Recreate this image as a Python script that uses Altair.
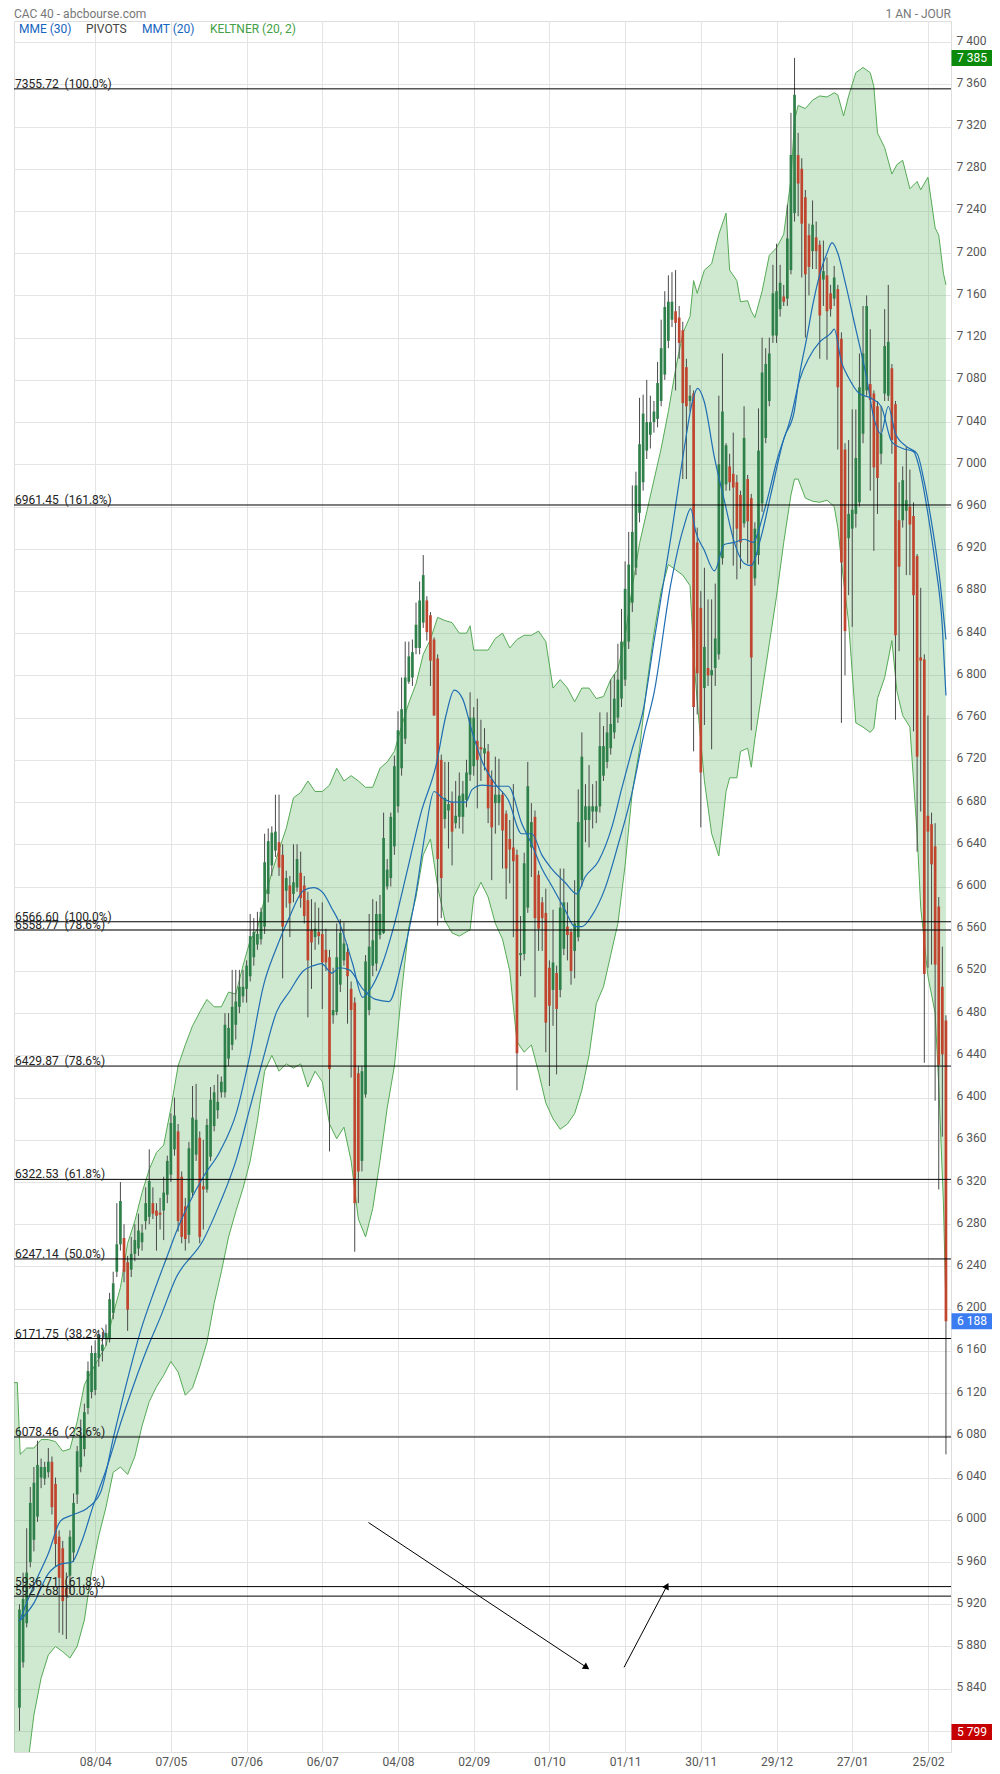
import altair as alt
import pandas as pd

# ---------------- data ----------------
O = [5822, 5865, 5902, 5960, 5981, 6003, 6040, 6039, 6045, 6055,
     6034, 5984, 5973, 5935, 5947, 5969, 6024, 6050, 6067, 6106,
     6121, 6123, 6153, 6160, 6171, 6171, 6196, 6235, 6261, 6267,
     6244, 6237, 6252, 6257, 6263, 6283, 6287, 6300, 6293, 6291,
     6293, 6308, 6327, 6351, 6368, 6325, 6297, 6270, 6310, 6346,
     6362, 6316, 6313, 6344, 6373, 6388, 6405, 6405, 6437, 6450,
     6469, 6486, 6496, 6503, 6515, 6533, 6545, 6550, 6562, 6593,
     6620, 6634, 6642, 6630, 6596, 6601, 6593, 6599, 6613, 6601,
     6587, 6559, 6552, 6557, 6555, 6540, 6533, 6478, 6481, 6507,
     6530, 6538, 6503, 6490, 6423, 6340, 6403, 6483, 6525, 6527,
     6554, 6556, 6600, 6608, 6638, 6676, 6712, 6740, 6794, 6798,
     6826, 6826, 6850, 6871, 6857, 6834, 6816, 6720, 6664, 6672,
     6680, 6660, 6666, 6666, 6682, 6706, 6714, 6738, 6732, 6726,
     6728, 6702, 6679, 6679, 6687, 6669, 6645, 6637, 6630, 6535,
     6536, 6580, 6637, 6666, 6611, 6585, 6575, 6523, 6502, 6518,
     6502, 6541, 6562, 6557, 6539, 6552, 6606, 6663, 6663, 6671,
     6671, 6676, 6705, 6718, 6731, 6746, 6760, 6778, 6796, 6832,
     6869, 6902, 6954, 6983, 7013, 7028, 7040, 7043, 7060, 7085,
     7117, 7137, 7145, 7139, 7127, 7092, 7060, 7067, 6926, 6864,
     6788, 6807, 6800, 6807, 6820, 6911, 6981, 6998, 6991, 6983,
     6971, 6944, 6986, 6968, 6892, 6914, 6963, 7025, 7060, 7122,
     7122, 7147, 7159, 7157, 7184, 7238, 7293, 7280, 7253, 7217,
     7202, 7215, 7208, 7175, 7179, 7162, 7157, 7166, 7119, 7014,
     6930, 6939, 6953, 6964, 7029, 7070, 7076, 7067, 7055, 7010,
     7067, 7065, 7091, 7057, 6947, 6947, 6956, 6960, 6951, 6913,
     6817, 6815, 6667, 6659, 6638, 6581, 6505, 6473]
C = [5915, 5925, 5950, 6016, 6035, 6052, 6050, 6050, 6055, 6012,
     5977, 5945, 5923, 5928, 5984, 6016, 6065, 6080, 6102, 6141,
     6158, 6158, 6175, 6166, 6177, 6209, 6224, 6261, 6302, 6235,
     6199, 6252, 6265, 6274, 6272, 6300, 6321, 6290, 6288, 6289,
     6310, 6340, 6376, 6383, 6283, 6268, 6266, 6352, 6381, 6379,
     6268, 6313, 6374, 6398, 6405, 6396, 6415, 6469, 6466, 6486,
     6491, 6505, 6505, 6525, 6553, 6557, 6555, 6576, 6623, 6643,
     6651, 6652, 6618, 6562, 6608, 6584, 6604, 6626, 6589, 6572,
     6530, 6547, 6560, 6553, 6528, 6528, 6427, 6483, 6533, 6556,
     6546, 6515, 6483, 6300, 6330, 6425, 6529, 6543, 6549, 6574,
     6574, 6646, 6616, 6666, 6714, 6748, 6768, 6798, 6818, 6822,
     6848, 6871, 6895, 6841, 6814, 6762, 6626, 6608, 6684, 6678,
     6652, 6667, 6686, 6688, 6708, 6760, 6760, 6720, 6730, 6731,
     6674, 6656, 6687, 6687, 6653, 6617, 6635, 6624, 6442, 6537,
     6622, 6695, 6661, 6570, 6560, 6570, 6471, 6487, 6528, 6484,
     6580, 6585, 6554, 6520, 6565, 6661, 6723, 6676, 6676, 6676,
     6676, 6733, 6733, 6746, 6754, 6778, 6796, 6832, 6882, 6905,
     6936, 6980, 7019, 7048, 7040, 7040, 7050, 7077, 7110, 7149,
     7154, 7154, 7134, 7115, 7058, 7055, 7065, 6770, 6802, 6708,
     6827, 6800, 6805, 6835, 7000, 7050, 7018, 6983, 6978, 6939,
     6926, 7025, 6946, 6817, 6939, 7013, 7087, 7095, 7105, 7162,
     7164, 7172, 7154, 7214, 7293, 7350, 7266, 7228, 7180, 7187,
     7227, 7202, 7141, 7183, 7145, 7147, 7177, 7073, 6907, 6842,
     6953, 6957, 7006, 7073, 7105, 7150, 7061, 6997, 6987, 7029,
     7112, 7116, 7023, 6838, 6903, 6985, 6966, 6943, 6876, 6723,
     6814, 6517, 6652, 6621, 6526, 6431, 6441, 6188]
HI = [5920, 5950, 5992, 6031, 6050, 6075, 6058, 6055, 6068, 6060,
      6040, 5990, 5980, 5950, 5990, 6025, 6070, 6095, 6110, 6150,
      6165, 6170, 6180, 6178, 6185, 6215, 6235, 6300, 6320, 6280,
      6250, 6268, 6280, 6290, 6280, 6315, 6351, 6315, 6300, 6305,
      6325, 6345, 6385, 6400, 6375, 6330, 6305, 6358, 6411, 6413,
      6368, 6360, 6380, 6410, 6412, 6422, 6420, 6480, 6480, 6521,
      6521, 6521, 6521, 6530, 6574, 6570, 6576, 6580, 6650, 6655,
      6657, 6687, 6687, 6640, 6615, 6610, 6640, 6640, 6633, 6610,
      6595, 6588, 6585, 6580, 6585, 6560, 6540, 6523, 6565, 6569,
      6566, 6545, 6510, 6495, 6430, 6430, 6535, 6574, 6588, 6586,
      6592, 6670, 6626, 6670, 6724, 6766, 6798, 6832, 6832, 6834,
      6869, 6889, 6914, 6875, 6860, 6836, 6820, 6725, 6718, 6718,
      6690, 6700, 6708, 6700, 6720, 6784, 6770, 6778, 6758, 6750,
      6735, 6710, 6723, 6721, 6690, 6672, 6663, 6697, 6635, 6572,
      6632, 6718, 6679, 6672, 6615, 6590, 6598, 6530, 6578, 6525,
      6617, 6617, 6585, 6560, 6606, 6692, 6746, 6697, 6715, 6697,
      6700, 6765, 6752, 6765, 6796, 6801, 6830, 6863, 6908, 6936,
      6980, 6993, 7063, 7066, 7080, 7065, 7060, 7097, 7137, 7164,
      7179, 7182, 7184, 7150, 7135, 7100, 7075, 7070, 6940, 6880,
      6902, 6872, 6872, 6887, 7065, 7105, 7020, 7010, 7030, 6990,
      6975, 7055, 6990, 6972, 6945, 7053, 7120, 7110, 7120, 7189,
      7209, 7189, 7170, 7246, 7333, 7385, 7314, 7290, 7260, 7228,
      7250, 7230, 7212, 7212, 7196, 7170, 7188, 7170, 7125, 7020,
      7023, 7052, 7052, 7105, 7150, 7160, 7128, 7070, 7060, 7055,
      7147, 7170, 7095, 7060, 6983, 6998, 7017, 6995, 6964, 6915,
      6883, 6820, 6762, 6670, 6660, 6590, 6543, 6478]
LO = [5800, 5860, 5898, 5955, 5970, 5998, 6030, 6033, 6040, 6005,
      5956, 5893, 5891, 5887, 5930, 5960, 6015, 6045, 6060, 6100,
      6115, 6118, 6145, 6150, 6165, 6168, 6190, 6230, 6255, 6225,
      6179, 6230, 6245, 6250, 6255, 6275, 6280, 6285, 6255, 6275,
      6265, 6300, 6320, 6345, 6273, 6262, 6255, 6262, 6305, 6340,
      6262, 6275, 6310, 6340, 6368, 6380, 6400, 6400, 6430, 6445,
      6455, 6480, 6490, 6490, 6510, 6525, 6540, 6545, 6555, 6585,
      6610, 6628, 6610, 6513, 6580, 6552, 6585, 6595, 6580, 6565,
      6476, 6503, 6540, 6545, 6484, 6520, 6349, 6470, 6478, 6500,
      6525, 6470, 6419, 6254, 6300, 6330, 6400, 6478, 6515, 6520,
      6550, 6555, 6597, 6600, 6630, 6670, 6705, 6735, 6792, 6790,
      6820, 6820, 6845, 6833, 6790, 6762, 6563, 6570, 6655, 6636,
      6620, 6655, 6655, 6650, 6675, 6700, 6705, 6674, 6700, 6710,
      6660, 6606, 6650, 6658, 6617, 6588, 6603, 6552, 6407, 6515,
      6530, 6575, 6609, 6495, 6539, 6539, 6443, 6411, 6468, 6422,
      6495, 6535, 6530, 6507, 6513, 6548, 6600, 6642, 6637, 6655,
      6660, 6670, 6700, 6712, 6725, 6740, 6755, 6770, 6790, 6825,
      6860, 6895, 6945, 6975, 7005, 7015, 7030, 7035, 7055, 7080,
      7110, 7130, 7070, 7100, 6986, 6986, 7050, 6728, 6763, 6656,
      6753, 6790, 6730, 6790, 6815, 6905, 6975, 6975, 6904, 6891,
      6901, 6940, 6906, 6748, 6885, 6905, 6955, 7020, 7055, 7115,
      7115, 7140, 7150, 7150, 7180, 7230, 7235, 7177, 7120, 7160,
      7185, 7185, 7100, 7150, 7099, 7140, 7150, 7014, 6755, 6800,
      6876, 6846, 6940, 6960, 7020, 7065, 6975, 6918, 6953, 7000,
      7060, 7060, 7010, 6758, 6823, 6940, 6895, 6895, 6747, 6633,
      6671, 6433, 6523, 6526, 6397, 6313, 6363, 6062]

# Keltner band (20, 2): index, upper, lower
band_i = [-1.5, -0.6, 0.2, 2, 4, 6, 8, 10, 12, 14, 16, 18, 20, 22, 24, 26, 28, 30, 32, 34,
          36, 38, 40, 42, 44, 46, 48, 50, 52, 54, 56, 58, 60, 62, 64, 66, 68, 70, 72, 74,
          76, 78, 80, 82, 84, 86, 88, 90, 92, 94, 96, 98, 100, 102, 104, 106, 108, 110, 112, 114,
          116, 118, 120, 122, 124, 125, 126, 128, 130, 132, 134, 136, 138, 140, 142, 144, 146, 148, 150, 152,
          154, 156, 158, 160, 162, 164, 166, 168, 170, 172, 174, 176, 178, 180, 182, 184, 186, 187, 188, 190,
          192, 194, 196, 197, 199, 200, 202, 203, 204, 206, 208, 210, 212, 214, 215, 216, 218, 220, 222, 224,
          226, 227, 228.6, 230, 232, 234, 236, 237, 238, 240, 242, 243.4, 245, 247, 249, 250, 252, 254, 255, 256.3,
          257]
band_up = [6130, 6130, 6062, 6068, 6068, 6076, 6076, 6074, 6065, 6067, 6093, 6128, 6141, 6153, 6165, 6195, 6220, 6262, 6283, 6310,
           6332, 6348, 6355, 6390, 6430, 6450, 6468, 6481, 6493, 6486, 6486, 6500, 6498, 6525, 6549, 6560, 6589, 6613, 6635, 6655,
           6684, 6689, 6700, 6690, 6690, 6696, 6712, 6700, 6705, 6700, 6694, 6694, 6712, 6718, 6728, 6752, 6774, 6792, 6820, 6834,
           6855, 6852, 6850, 6840, 6840, 6847, 6824, 6824, 6824, 6835, 6840, 6826, 6834, 6838, 6838, 6842, 6832, 6788, 6796, 6788,
           6775, 6788, 6788, 6778, 6780, 6796, 6806, 6837, 6884, 6925, 6955, 6985, 7015, 7050, 7090, 7124, 7140, 7174, 7162, 7184,
           7190, 7218, 7238, 7184, 7174, 7154, 7155, 7145, 7139, 7164, 7198, 7205, 7218, 7270, 7326, 7340, 7337, 7345, 7349, 7348,
           7352, 7350, 7330, 7349, 7371, 7376, 7371, 7358, 7314, 7300, 7275, 7284, 7288, 7261, 7268, 7260, 7272, 7224, 7217, 7181,
           7170]
band_lo = [5700, 5715, 5725, 5760, 5815, 5850, 5872, 5880, 5875, 5869, 5880, 5905, 5951, 5985, 6012, 6045, 6050, 6043, 6060, 6089,
           6112, 6126, 6137, 6150, 6140, 6118, 6125, 6145, 6168, 6205, 6235, 6268, 6292, 6314, 6340, 6378, 6425, 6440, 6425, 6432,
           6428, 6432, 6410, 6425, 6415, 6375, 6361, 6372, 6340, 6285, 6268, 6295, 6340, 6390, 6430, 6500, 6562, 6590, 6630, 6645,
           6600, 6568, 6556, 6553, 6557, 6559, 6590, 6604, 6590, 6565, 6550, 6520, 6453, 6443, 6450, 6424, 6395, 6380, 6370, 6375,
           6385, 6407, 6440, 6489, 6505, 6535, 6565, 6620, 6690, 6730, 6790, 6840, 6880, 6905, 6900, 6895, 6885, 6820, 6775, 6700,
           6650, 6629, 6690, 6703, 6703, 6728, 6731, 6713, 6740, 6785, 6830, 6875, 6926, 6971, 6986, 6986, 6968, 6965, 6964, 6966,
           6960, 6940, 6890, 6850, 6755, 6751, 6746, 6750, 6778, 6798, 6833, 6785, 6762, 6751, 6650, 6580, 6515, 6480, 6412, 6300,
           6200]

# MMT (20) and MME (30)
ma1_i = [0, 4, 8, 11.4, 15, 18.8, 22.5, 26.2, 29.9, 33.6, 37.3, 41, 43.4, 51, 55.6, 60.2, 63.9, 67.6, 71.3, 75,
         78.7, 81.5, 84.2, 86.7, 88.7, 92.4, 95.2, 97, 100.7, 103.5, 107.5, 111.4, 115.5, 118.3, 120.6, 122.9, 125.6, 128.4, 132, 135.6,
         139.3, 142.1, 144.9, 147.6, 151.3, 154.6, 156.9, 160.6, 164.3, 167, 169.8, 173.2, 176, 180.7, 184.4, 186.7, 188.1, 189.9, 192.8, 195.5,
         198.3, 201.1, 202.9, 205.7, 208.4, 212.1, 214.9, 216.4, 218.4, 220, 222, 224, 225.4, 227, 229, 232, 235, 237, 239, 241,
         243, 246, 249, 251, 253, 255, 257]
ma1_v = [5904, 5938, 5968, 5999, 6005, 6011, 6026, 6080, 6132, 6179, 6216, 6250, 6272, 6325, 6349, 6386, 6440, 6505, 6542, 6572,
         6596, 6599, 6594, 6579, 6566, 6527, 6495, 6501, 6527, 6558, 6614, 6670, 6714, 6762, 6786, 6778, 6746, 6718, 6697, 6682,
         6650, 6650, 6630, 6617, 6604, 6593, 6609, 6624, 6656, 6692, 6728, 6770, 6832, 6931, 7015, 7060, 7072, 7060, 7006, 6966,
         6926, 6906, 6904, 6931, 6971, 7025, 7050, 7085, 7120, 7150, 7180, 7200, 7210, 7200, 7173, 7128, 7082, 7044, 7029, 7055,
         7029, 7017, 7010, 6983, 6945, 6899, 6834]
ma2_i = [0, 4, 8, 11.4, 14.6, 17, 20.7, 24.3, 28, 31.7, 35.4, 39.1, 43.4, 51, 55.6, 60.2, 63.9, 67.6, 71.3, 75,
         78.7, 81.5, 83.8, 86.7, 88.7, 91.5, 95.2, 98.8, 102.5, 106.2, 110, 112.7, 115, 117.3, 120.1, 123.8, 125.6, 128.4, 132, 135.6,
         139.3, 142.1, 144.9, 147.6, 151.3, 154.1, 156, 158.7, 162.4, 166.1, 169.8, 173.2, 176, 180.7, 184.3, 186.2, 187.6, 189.9, 192.8, 195.5,
         198.3, 201.1, 203.4, 206.6, 210.3, 214, 216.4, 219, 222, 225, 226, 228, 230, 233, 236, 239, 242, 245, 248, 250,
         252, 254, 256, 257]
ma2_v = [5904, 5921, 5949, 5958, 5960, 5977, 6016, 6050, 6091, 6128, 6162, 6192, 6229, 6265, 6300, 6342, 6390, 6437, 6481, 6501,
         6520, 6525, 6527, 6518, 6523, 6521, 6503, 6493, 6491, 6531, 6594, 6654, 6690, 6684, 6680, 6680, 6692, 6696, 6695, 6695,
         6660, 6640, 6617, 6601, 6578, 6562, 6562, 6572, 6598, 6640, 6687, 6744, 6783, 6887, 6941, 6958, 6936, 6919, 6899, 6924,
         6926, 6929, 6926, 6956, 7006, 7045, 7080, 7101, 7116, 7124, 7128, 7097, 7082, 7067, 7063, 7055, 7021, 7015, 7012, 6991,
         6953, 6907, 6846, 6781]

fib_vals = [7355.72, 6961.45, 6566.60, 6558.77, 6429.87, 6322.53, 6247.14, 6171.75, 6078.46, 5936.71, 5927.68]
fib_pct = ["100.0%", "161.8%", "100.0%", "78.6%", "78.6%", "61.8%", "50.0%", "38.2%", "23.6%", "61.8%", "0.0%"]

x_ticks = [21, 42, 63, 84, 105, 126, 147, 168, 189, 210, 231, 252]
x_labels = ["08/04", "07/05", "07/06", "06/07", "04/08", "02/09", "01/10", "01/11", "30/11", "29/12", "27/01", "25/02"]

badge_vals = [7385, 6188, 5799]
badge_text = ["7 385", "6 188", "5 799"]
badge_cols = ["#0b8a0b", "#3c7cf2", "#c60000"]

arrow_seg = [1, 1, 2, 2]
arrow_i = [96.8, 157.3, 167.7, 179.6]
arrow_p = [5997.4, 5860.2, 5860.2, 5937.4]

# ---------------- chart ----------------
W, HPLOT = 937, 1731
GREEN, RED = "#2f7f4a", "#c0452f"
NB = "\u00a0"

candles = pd.DataFrame({"i": list(range(len(O))), "o": O, "c": C, "h": HI, "l": LO})
band = pd.DataFrame({"bi": band_i, "bu": band_up, "bl": band_lo})
mas = pd.concat([
    pd.DataFrame({"mi": ma1_i, "mv": ma1_v, "s": "MMT"}),
    pd.DataFrame({"mi": ma2_i, "mv": ma2_v, "s": "MME"}),
])
fib = pd.DataFrame({"fv": fib_vals,
                    "fl": [f"{v:.2f} {NB}({p})" for v, p in zip(fib_vals, fib_pct)]})
badges = pd.DataFrame({"bv": badge_vals, "bt": badge_text, "bc": badge_cols})
arrows = pd.DataFrame({"seg": arrow_seg, "ai": arrow_i, "ap": arrow_p})

label_expr = " : ".join(f"datum.value == {v} ? '{t}'" for v, t in zip(x_ticks, x_labels)) + " : ''"

xscale = alt.Scale(domain=[-1.52, 258.4], nice=False, zero=False)
yscale = alt.Scale(domain=[5780, 7420], nice=False, zero=False)
xaxis = alt.Axis(values=x_ticks, labelExpr=label_expr, grid=True, domain=False, ticks=False,
                 title=None, labelPadding=4, labelFontSize=12, labelColor="#555",
                 gridColor="#e4e4e4", labelFont="Roboto")
yaxis = alt.Axis(orient="right", values=list(range(5800, 7401, 40)),
                 labelExpr="replace(format(datum.value, ','), ',', ' ')",
                 grid=True, domain=False, ticks=False, title=None, labelPadding=5, labelOffset=-2,
                 labelFontSize=12, labelColor="#555", gridColor="#e4e4e4", labelFont="Roboto")


def X(f):
    return alt.X(f"{f}:Q", scale=xscale, axis=xaxis)


def Y(f):
    return alt.Y(f"{f}:Q", scale=yscale, axis=yaxis)


band_area = alt.Chart(band).mark_area(color="#4caf50", opacity=0.27, clip=True).encode(
    x=X("bi"), y=Y("bu"), y2="bl:Q")
band_up_line = alt.Chart(band).mark_line(color="#55aa55", strokeWidth=1, clip=True).encode(
    x=X("bi"), y=Y("bu"))
band_lo_line = alt.Chart(band).mark_line(color="#55aa55", strokeWidth=1, clip=True).encode(
    x=X("bi"), y=Y("bl"))

wicks = alt.Chart(candles).mark_rule(color="#4a4a4a", strokeWidth=1, clip=True).encode(
    x=X("i"), y=Y("l"), y2="h:Q")
bodies = alt.Chart(candles).mark_rule(strokeWidth=2.7, clip=True).encode(
    x=X("i"), y=Y("o"), y2="c:Q",
    color=alt.condition("datum.c >= datum.o", alt.value(GREEN), alt.value(RED)))

ma_lines = alt.Chart(mas).mark_line(color="#1f6db3", strokeWidth=1.2, interpolate="monotone").encode(
    x=X("mi"), y=Y("mv"), detail="s:N")

fib_rules = alt.Chart(fib).mark_rule(color="#000", strokeWidth=1).encode(y=Y("fv"))
fib_text = alt.Chart(fib).mark_text(align="left", baseline="alphabetic", dy=-1, fontSize=12,
                                    color="#222", font="Roboto").encode(
    x=alt.value(1), y=Y("fv"), text="fl:N")

arrow_lines = alt.Chart(arrows).mark_line(color="#000", strokeWidth=1).encode(
    x=X("ai"), y=Y("ap"), detail="seg:N")
head1 = alt.Chart(arrows.iloc[[1]]).mark_point(shape="triangle-right", filled=True, color="#000",
                                               size=55, angle=33.6, opacity=1).encode(x=X("ai"), y=Y("ap"))
head2 = alt.Chart(arrows.iloc[[3]]).mark_point(shape="triangle-right", filled=True, color="#000",
                                               size=55, angle=297.8, opacity=1).encode(x=X("ai"), y=Y("ap"))

# badge box: 41 px wide, 16 px tall (custom symbol path in a -1..1 box)
box_path = "M-1,-0.39L1,-0.39L1,0.39L-1,0.39Z"
BX = W + 21
badge_box = alt.Chart(badges).mark_point(shape=box_path, size=1681, filled=True, opacity=1,
                                         strokeWidth=0).encode(
    x=alt.value(BX), y=Y("bv"), color=alt.Color("bc:N", scale=None))
badge_txt = alt.Chart(badges).mark_text(color="white", fontSize=12, font="Roboto").encode(
    x=alt.value(BX), y=Y("bv"), text="bt:N")

one = pd.DataFrame({"k": [0]})


def label(text, x, y, color, align="left", size=12):
    return alt.Chart(one).mark_text(text=text, align=align, baseline="middle", fontSize=size,
                                    color=color, font="Roboto").encode(
        x=alt.value(x), y=alt.value(y))


texts = [
    label("CAC 40 - abcbourse.com", 0, -7, "#777"),
    label("1 AN - JOUR", W, -7, "#777", align="right"),
    label("MME (30)", 5, 8, "#1565c0"),
    label("PIVOTS", 72, 8, "#444"),
    label("MMT (20)", 128, 8, "#1565c0"),
    label("KELTNER (20, 2)", 196, 8, "#43a047"),
]

chart = alt.layer(
    band_area, band_up_line, band_lo_line, wicks, bodies, ma_lines,
    fib_rules, fib_text, arrow_lines, head1, head2, badge_box, badge_txt, *texts
).properties(
    width=W, height=HPLOT,
    autosize=alt.AutoSizeParams(type="none"),
    padding={"left": 6, "top": 13, "right": 41, "bottom": 22},
).configure_view(stroke="#d6d6d6", strokeWidth=1).configure(font="Roboto")

chart.save("out.html", embed_options={"renderer": "svg", "actions": False})
